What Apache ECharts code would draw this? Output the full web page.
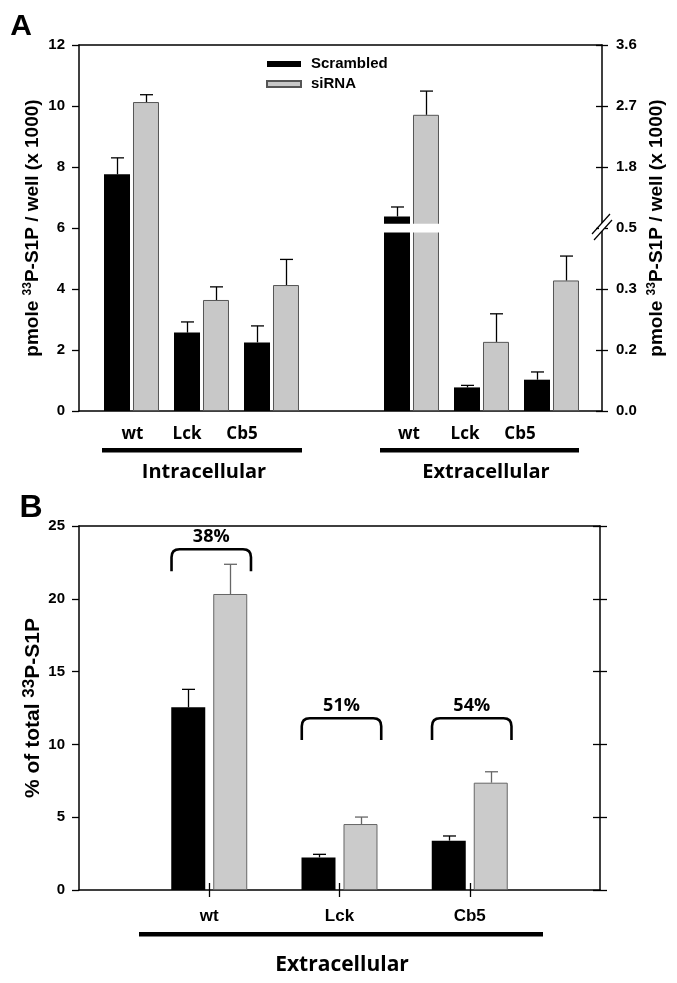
<!DOCTYPE html>
<html><head><meta charset="utf-8">
<script src="https://cdn.jsdelivr.net/npm/echarts@6/dist/echarts.min.js"></script>
<style>html,body{margin:0;padding:0;background:#fff}#c{width:677px;height:983px}</style>
</head><body><div id="c"></div>
<script>
// ---------------- Panel A data ----------------
const groupsA = ['wt', 'Lck', 'Cb5'];
// Intracellular (left axis, pmole x1000)
const intraScrambled    = [7.76, 2.57, 2.25];
const intraScrambledErr = [0.54, 0.35, 0.54];
const intraSiRNA        = [10.13, 3.64, 4.13];
const intraSiRNAErr     = [0.24, 0.43, 0.84];
// Extracellular (right, broken axis, pmole x1000)
const extraScrambled    = [1.07, 0.058, 0.077];
const extraScrambledErr = [0.14, 0.005, 0.019];
const extraSiRNA        = [2.57, 0.170, 0.321];
const extraSiRNAErr     = [0.35, 0.069, 0.060];
const rightTickLabelsA  = ['0.0', '0.2', '0.3', '0.5', '1.8', '2.7', '3.6'];
// broken right axis: lower segment 0..0.45, upper segment 0.9..3.6
const breakLow = 0.45, breakHigh = 0.9, rightMax = 3.6;

// ---------------- Panel B data ----------------
const groupsB = ['wt', 'Lck', 'Cb5'];
const bScrambled    = [12.55, 2.24, 3.39];
const bScrambledErr = [1.23, 0.21, 0.32];
const bSiRNA        = [20.33, 4.53, 7.37];
const bSiRNAErr     = [2.04, 0.48, 0.75];
const percentLabels = ['38%', '51%', '54%'];
const bracketTop    = [23.4, 11.8, 11.8];
const bracketEnd    = [21.9, 10.3, 10.3];

// ---------------- helpers ----------------
const LEFT_MAX = 12, HALF = LEFT_MAX / 2;
function toLeftScale(v) {           // right broken axis -> shared 0..12 scale
  if (v <= breakLow) return v / breakLow * HALF;
  return HALF + (v - breakHigh) / (rightMax - breakHigh) * HALF;
}
const ARIAL = '"Liberation Sans", Arial, sans-serif';
const OPEN = '"Open Sans", sans-serif';
const catsA = [...groupsA, '', ...groupsA.map(g => g + ' ')];
const gapSlot = ['-'];
const scrA = [...intraScrambled, ...gapSlot, ...extraScrambled.map(toLeftScale)];
const sirA = [...intraSiRNA, ...gapSlot, ...extraSiRNA.map(toLeftScale)];
const errScrA = [], errSirA = [];
groupsA.forEach((g, i) => {
  errScrA.push([i, intraScrambled[i], intraScrambled[i] + intraScrambledErr[i]]);
  errSirA.push([i, intraSiRNA[i], intraSiRNA[i] + intraSiRNAErr[i]]);
  const j = groupsA.length + 1 + i;
  errScrA.push([j, toLeftScale(extraScrambled[i]), toLeftScale(extraScrambled[i] + extraScrambledErr[i])]);
  errSirA.push([j, toLeftScale(extraSiRNA[i]), toLeftScale(extraSiRNA[i] + extraSiRNAErr[i])]);
});
const breakBars = [];
groupsA.forEach((g, i) => {
  if (extraScrambled[i] > breakLow || extraSiRNA[i] > breakLow)
    breakBars.push([groupsA.length + 1 + i, toLeftScale(breakLow) - 0.15, toLeftScale(breakLow) + 0.14]);
});
const catsB = ['', ...groupsB, ''];
const scrB = ['-', ...bScrambled, '-'];
const sirB = ['-', ...bSiRNA, '-'];
const errScrB = groupsB.map((g, i) => [i + 1, bScrambled[i], bScrambled[i] + bScrambledErr[i]]);
const errSirB = groupsB.map((g, i) => [i + 1, bSiRNA[i], bSiRNA[i] + bSiRNAErr[i]]);
const brackets = groupsB.map((g, i) => [i + 1, bracketEnd[i], bracketTop[i]]);

function errRender(offset, capW, color) {
  return function (params, api) {
    const idx = api.value(0);
    const b = api.coord([idx, api.value(1)]);
    const t = api.coord([idx, api.value(2)]);
    const x = Math.round(b[0] + offset) + 0.5;
    return { type: 'group', children: [
      { type: 'line', shape: { x1: x, y1: b[1], x2: x, y2: t[1] }, style: { stroke: color, lineWidth: 1.3 } },
      { type: 'line', shape: { x1: x - capW / 2, y1: t[1], x2: x + capW / 2, y2: t[1] }, style: { stroke: color, lineWidth: 1.3 } }
    ]};
  };
}

const blackLine = { show: true, onZero: false, lineStyle: { color: '#000', width: 1.5 } };
const noLine = { show: false, onZero: false };
const nameRich = (m, s) => ({
  m: { fontSize: m, fontWeight: 'bold', fontFamily: ARIAL, color: '#000', lineHeight: m + 3 },
  s: { fontSize: s, fontWeight: 'bold', fontFamily: ARIAL, color: '#000', verticalAlign: 'top', lineHeight: s }
});
const tickLabel = { fontSize: 15, fontWeight: 'bold', fontFamily: ARIAL, color: '#000' };

const chart = echarts.init(document.getElementById('c'), null, { renderer: 'canvas' });
chart.setOption({
  animation: false,
  backgroundColor: '#fff',
  legend: {
    data: ['Scrambled', 'siRNA'], orient: 'vertical', left: 266, top: 56.5,
    itemWidth: 34, itemHeight: 6, itemGap: 5, icon: 'rect', padding: 0,
    textStyle: { fontSize: 15, fontWeight: 'bold', fontFamily: ARIAL, color: '#000', padding: [0, 0, 0, 5] }
  },
  grid: [
    { left: 79, top: 45, width: 523, height: 366 },
    { left: 96.5, top: 45, width: 490, height: 366 },
    { left: 79, top: 526, width: 521, height: 364 }
  ],
  xAxis: [
    { gridIndex: 0, type: 'value', min: 0, max: 1, position: 'bottom', axisLine: blackLine, axisTick: { show: false }, axisLabel: { show: false }, splitLine: { show: false } },
    { gridIndex: 0, type: 'value', min: 0, max: 1, position: 'top', axisLine: blackLine, axisTick: { show: false }, axisLabel: { show: false }, splitLine: { show: false } },
    { gridIndex: 1, type: 'category', data: catsA, show: false },
    { gridIndex: 2, type: 'category', data: catsB, boundaryGap: false, position: 'bottom', axisLine: blackLine,
      axisTick: { show: true, length: 7, interval: i => i >= 1 && i <= groupsB.length, lineStyle: { color: '#000', width: 1.3 } },
      axisLabel: { interval: 0, margin: 18, fontSize: 17, fontWeight: 'bold', fontFamily: ARIAL, color: '#000' } },
    { gridIndex: 2, type: 'category', data: catsB, boundaryGap: false, position: 'top', axisLine: blackLine, axisTick: { show: false }, axisLabel: { show: false } },
    { gridIndex: 2, type: 'category', data: catsB, boundaryGap: false, position: 'bottom', axisLine: noLine,
      axisTick: { show: true, inside: true, length: 7, interval: i => i >= 1 && i <= groupsB.length, lineStyle: { color: '#000', width: 1.3 } }, axisLabel: { show: false } }
  ],
  yAxis: [
    { gridIndex: 0, type: 'value', min: 0, max: LEFT_MAX, interval: 2, position: 'left', axisLine: blackLine,
      axisTick: { show: true, length: 7, lineStyle: { color: '#000', width: 1.3 } }, splitLine: { show: false },
      axisLabel: Object.assign({ margin: 14 }, tickLabel),
      name: '{m|pmole }{s|33}{m|P-S1P / well (x 1000)}', nameLocation: 'middle', nameRotate: 90, nameGap: 35, nameMoveOverlap: false,
      nameTextStyle: { rich: nameRich(19, 12) } },
    { gridIndex: 0, type: 'value', min: 0, max: LEFT_MAX, interval: 2, position: 'right', axisLine: blackLine,
      axisTick: { show: true, length: 6, lineStyle: { color: '#000', width: 1.3 } }, splitLine: { show: false },
      axisLabel: Object.assign({ margin: 14, formatter: v => rightTickLabelsA[Math.round(v / 2)] }, tickLabel),
      name: '{m|pmole }{s|33}{m|P-S1P / well (x 1000)}', nameLocation: 'middle', nameRotate: 90, nameGap: 44, nameMoveOverlap: false,
      nameTextStyle: { rich: nameRich(19, 12) } },
    { gridIndex: 0, type: 'value', min: 0, max: LEFT_MAX, interval: 2, position: 'right', axisLine: noLine,
      axisTick: { show: true, inside: true, length: 6, lineStyle: { color: '#000', width: 1.3 } }, splitLine: { show: false }, axisLabel: { show: false } },
    { gridIndex: 1, type: 'value', min: 0, max: LEFT_MAX, show: false },
    { gridIndex: 2, type: 'value', min: 0, max: 25, interval: 5, position: 'left', axisLine: blackLine,
      axisTick: { show: true, length: 7, lineStyle: { color: '#000', width: 1.3 } }, splitLine: { show: false },
      axisLabel: Object.assign({ margin: 14 }, tickLabel),
      name: '{m|% of total }{s|33}{m|P-S1P}', nameLocation: 'middle', nameRotate: 90, nameGap: 34, nameMoveOverlap: false,
      nameTextStyle: { rich: nameRich(21, 17) } },
    { gridIndex: 2, type: 'value', min: 0, max: 25, interval: 5, position: 'right', axisLine: blackLine,
      axisTick: { show: true, length: 7, lineStyle: { color: '#000', width: 1.3 } }, splitLine: { show: false }, axisLabel: { show: false } },
    { gridIndex: 2, type: 'value', min: 0, max: 25, interval: 5, position: 'right', axisLine: noLine,
      axisTick: { show: true, inside: true, length: 7, lineStyle: { color: '#000', width: 1.3 } }, splitLine: { show: false }, axisLabel: { show: false } }
  ],
  series: [
    { name: 'Scrambled', type: 'bar', xAxisIndex: 2, yAxisIndex: 3, data: scrA, barWidth: 26, barGap: '11.5%', itemStyle: { color: '#000' } },
    { name: 'siRNA', type: 'bar', xAxisIndex: 2, yAxisIndex: 3, data: sirA, barWidth: 26, barGap: '11.5%', itemStyle: { color: '#c8c8c8', borderColor: '#555', borderWidth: 1 } },
    { type: 'custom', xAxisIndex: 2, yAxisIndex: 3, data: errScrA, renderItem: errRender(-14.5, 13, '#000'), z: 3 },
    { type: 'custom', xAxisIndex: 2, yAxisIndex: 3, data: errSirA, renderItem: errRender(14.5, 13, '#000'), z: 3 },
    { type: 'custom', xAxisIndex: 2, yAxisIndex: 3, data: breakBars, z: 10,
      renderItem: (params, api) => {
        const idx = api.value(0);
        const lo = api.coord([idx, api.value(1)]);
        const hi = api.coord([idx, api.value(2)]);
        const half = api.size([1, 0])[0] * 0.41;
        return { type: 'rect', shape: { x: lo[0] - half, y: hi[1], width: 2 * half, height: lo[1] - hi[1] }, style: { fill: '#fff' } };
      } },
    { type: 'custom', xAxisIndex: 0, yAxisIndex: 0, data: [[1, toLeftScale(breakLow)]], z: 10,
      renderItem: (params, api) => {
        const p = api.coord([api.value(0), api.value(1)]);
        const x = p[0], y = p[1];
        return { type: 'group', children: [
          { type: 'rect', shape: { x: x - 3, y: y - 5, width: 6, height: 8 }, style: { fill: '#fff' } },
          { type: 'line', shape: { x1: x - 10, y1: y + 6, x2: x + 8, y2: y - 14 }, style: { stroke: '#000', lineWidth: 1.2 } },
          { type: 'line', shape: { x1: x - 8, y1: y + 12, x2: x + 10, y2: y - 8 }, style: { stroke: '#000', lineWidth: 1.2 } }
        ]};
      } },
    { name: 'Scrambled', type: 'bar', xAxisIndex: 3, yAxisIndex: 4, data: scrB, barWidth: 34, barGap: '23.5%', itemStyle: { color: '#000' } },
    { name: 'siRNA', type: 'bar', xAxisIndex: 3, yAxisIndex: 4, data: sirB, barWidth: 34, barGap: '23.5%', itemStyle: { color: '#cbcbcb', borderColor: '#666', borderWidth: 1 } },
    { type: 'custom', xAxisIndex: 3, yAxisIndex: 4, data: errScrB, renderItem: errRender(-21, 13, '#000'), z: 3 },
    { type: 'custom', xAxisIndex: 3, yAxisIndex: 4, data: errSirB, renderItem: errRender(21, 13, '#666'), z: 3 },
    { type: 'custom', xAxisIndex: 3, yAxisIndex: 4, data: brackets, z: 5,
      renderItem: (params, api) => {
        const idx = api.value(0);
        const yEnd = api.coord([idx, api.value(1)])[1];
        const p = api.coord([idx, api.value(2)]);
        const half = api.size([1, 0])[0] * 0.305, r = 8;
        const x0 = p[0] - half + 2, x1 = p[0] + half + 2, yt = p[1];
        const d = `M${x0},${yEnd} L${x0},${yt + r} Q${x0},${yt} ${x0 + r},${yt} L${x1 - r},${yt} Q${x1},${yt} ${x1},${yt + r} L${x1},${yEnd}`;
        return { type: 'group', children: [
          { type: 'path', shape: { pathData: d }, style: { stroke: '#000', fill: 'none', lineWidth: 2.6 } },
          { type: 'text', style: { text: percentLabels[params.dataIndex], x: p[0] + 2, y: yt - 12,
            align: 'center', verticalAlign: 'middle', textAlign: 'center', textVerticalAlign: 'middle',
            font: 'bold 18px ' + OPEN, fill: '#000' } }
        ]};
      } }
  ],
  graphic: [
    { type: 'text', style: { text: 'A', x: 21, y: 27, font: 'bold 30px ' + ARIAL, fill: '#000', align: 'center', verticalAlign: 'middle', textAlign: 'center', textVerticalAlign: 'middle' } },
    { type: 'text', style: { text: 'B', x: 31, y: 508, font: 'bold 32px ' + ARIAL, fill: '#000', align: 'center', verticalAlign: 'middle', textAlign: 'center', textVerticalAlign: 'middle' } },
    ...[[groupsA[0], 132.5], [groupsA[1], 187], [groupsA[2], 242], [groupsA[0], 409], [groupsA[1], 465], [groupsA[2], 520]].map(([t, x]) => (
      { type: 'text', style: { text: t, x: x, y: 434, font: 'bold 17px ' + OPEN, fill: '#000', align: 'center', verticalAlign: 'middle', textAlign: 'center', textVerticalAlign: 'middle' } })),
    { type: 'rect', shape: { x: 102, y: 448, width: 200, height: 4.5 }, style: { fill: '#000' } },
    { type: 'rect', shape: { x: 380, y: 448, width: 199, height: 4.5 }, style: { fill: '#000' } },
    { type: 'text', style: { text: 'Intracellular', x: 204, y: 472, font: 'bold 20px ' + OPEN, fill: '#000', align: 'center', verticalAlign: 'middle', textAlign: 'center', textVerticalAlign: 'middle' } },
    { type: 'text', style: { text: 'Extracellular', x: 486, y: 472, font: 'bold 20px ' + OPEN, fill: '#000', align: 'center', verticalAlign: 'middle', textAlign: 'center', textVerticalAlign: 'middle' } },
    { type: 'rect', shape: { x: 139, y: 932, width: 404, height: 4.5 }, style: { fill: '#000' } },
    { type: 'text', style: { text: 'Extracellular', x: 342, y: 965, font: 'bold 21px ' + OPEN, fill: '#000', align: 'center', verticalAlign: 'middle', textAlign: 'center', textVerticalAlign: 'middle' } }
  ]
});
</script>
</body></html>
